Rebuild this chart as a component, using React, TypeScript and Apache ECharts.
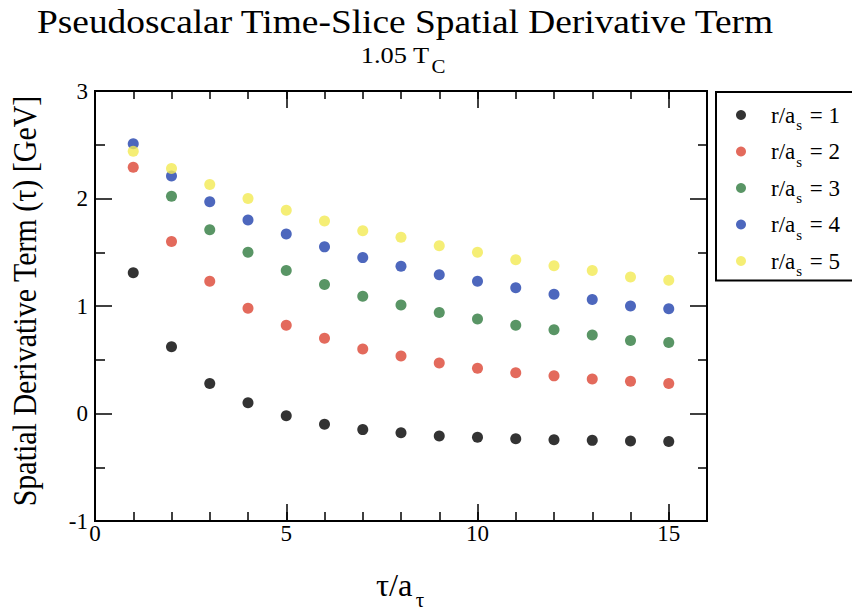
import React, { useEffect, useRef } from "react";
import * as echarts from "echarts";

const FONT = "'Liberation Serif', 'Times New Roman', serif";

const tau = [1, 2, 3, 4, 5, 6, 7, 8, 9, 10, 11, 12, 13, 14, 15];
const seriesNames = ["r/a_s = 1", "r/a_s = 2", "r/a_s = 3", "r/a_s = 4", "r/a_s = 5"];
const rLabels = ["1", "2", "3", "4", "5"];
const r1 = [1.31, 0.62, 0.28, 0.1, -0.02, -0.1, -0.15, -0.18, -0.21, -0.22, -0.235, -0.245, -0.25, -0.255, -0.26];
const r2 = [2.29, 1.6, 1.23, 0.98, 0.82, 0.7, 0.6, 0.535, 0.47, 0.42, 0.38, 0.35, 0.32, 0.3, 0.28];
const r3 = [null, 2.02, 1.71, 1.5, 1.33, 1.2, 1.09, 1.01, 0.94, 0.88, 0.82, 0.78, 0.73, 0.68, 0.66];
const r4 = [2.51, 2.21, 1.97, 1.8, 1.67, 1.55, 1.45, 1.37, 1.29, 1.23, 1.17, 1.11, 1.06, 1.0, 0.975];
const r5 = [2.44, 2.28, 2.13, 2.0, 1.89, 1.79, 1.7, 1.64, 1.56, 1.5, 1.43, 1.375, 1.33, 1.27, 1.24];
const colors = ["#000000", "#dc4533", "#2f7a3e", "#2141ac", "#f3ea52"];
const allSeries = [r1, r2, r3, r4, r5];

const yTicks = { min: -1, max: 3, interval: 1 };
const xRange = { min: 0, max: 16 };

export default function App() {
  const ref = useRef<HTMLDivElement>(null);
  useEffect(() => {
    const chart = echarts.init(ref.current!, null, { renderer: "svg" });
    const tickLine = { color: "#000", width: 1.5 };
    const xBase = {
      type: "value" as const,
      min: xRange.min,
      max: xRange.max,
      splitLine: { show: false },
      axisLine: { show: false, onZero: false },
    };
    const option: any = {
      animation: false,
      backgroundColor: "#ffffff",
      textStyle: { fontFamily: FONT },
      grid: {
        left: 95,
        top: 91,
        width: 612,
        height: 430,
        show: true,
        borderColor: "#000",
        borderWidth: 2,
      },
      graphic: [
        {
          type: "text",
          x: 405,
          y: 22,
          scaleX: 1.1,
          style: {
            text: "Pseudoscalar Time-Slice Spatial Derivative Term",
            font: `34px ${FONT}`,
            fill: "#000",
            textAlign: "center",
            textVerticalAlign: "middle",
          },
        },
        {
          type: "text",
          x: 403,
          y: 55,
          scaleX: 1.1,
          style: {
            text: "1.05 T{c|C}",
            font: `24px ${FONT}`,
            fill: "#000",
            textAlign: "center",
            textVerticalAlign: "middle",
            rich: {
              c: { font: `19px ${FONT}`, fill: "#000", padding: [22, 0, 0, 2] },
            },
          },
        },
        {
          type: "text",
          x: 25,
          y: 301,
          rotation: Math.PI / 2,
          scaleY: 1.1,
          style: {
            text: "Spatial Derivative Term (τ) [GeV]",
            font: `30px ${FONT}`,
            fill: "#000",
            textAlign: "center",
            textVerticalAlign: "middle",
          },
        },
        {
          type: "text",
          x: 400,
          y: 586,
          scaleX: 1.05,
          style: {
            text: "τ/a{t|τ}",
            font: `31px ${FONT}`,
            fill: "#000",
            textAlign: "center",
            textVerticalAlign: "middle",
            rich: {
              t: { font: `20px ${FONT}`, fill: "#000", padding: [28, 0, 0, 3] },
            },
          },
        },
      ],
      legend: {
        orient: "vertical",
        left: 716,
        top: 92,
        padding: [9, 40, 2, 20],
        itemGap: 5,
        itemWidth: 10,
        itemHeight: 10,
        icon: "circle",
        borderColor: "#000",
        borderWidth: 2,
        data: seriesNames,
        formatter: (name: string) => {
          const i = seriesNames.indexOf(name);
          return `r/a{s|s} = ${rLabels[i]}`;
        },
        textStyle: {
          fontFamily: FONT,
          fontSize: 23,
          lineHeight: 28,
          color: "#000",
          padding: [0, 0, 0, 20],
          rich: {
            s: { fontFamily: FONT, fontSize: 15, color: "#000", padding: [20, 2, 0, 1] },
          },
        },
      },
      xAxis: [
        {
          ...xBase,
          position: "bottom",
          interval: 5,
          axisTick: { show: true, inside: true, length: 17, lineStyle: tickLine },
          axisLabel: {
            show: true,
            fontFamily: FONT,
            fontSize: 23,
            color: "#000",
            margin: 1,
            showMaxLabel: false,
          },
        },
        {
          ...xBase,
          position: "bottom",
          interval: 1,
          axisTick: { show: true, inside: true, length: 9, lineStyle: tickLine },
          axisLabel: { show: false },
        },
        {
          ...xBase,
          position: "top",
          interval: 5,
          axisTick: { show: true, inside: true, length: 17, lineStyle: tickLine },
          axisLabel: { show: false },
        },
        {
          ...xBase,
          position: "top",
          interval: 1,
          axisTick: { show: true, inside: true, length: 8, lineStyle: tickLine },
          axisLabel: { show: false },
        },
      ],
      yAxis: [
        {
          type: "value",
          position: "left",
          min: yTicks.min,
          max: yTicks.max,
          interval: yTicks.interval,
          splitLine: { show: false },
          axisLine: { show: false, onZero: false },
          axisTick: { show: true, inside: true, length: 17, lineStyle: tickLine },
          minorTick: { show: true, splitNumber: 2, length: 10, lineStyle: tickLine },
          axisLabel: { fontFamily: FONT, fontSize: 23, color: "#000", margin: 7 },
        },
        {
          type: "value",
          position: "right",
          min: yTicks.min,
          max: yTicks.max,
          interval: yTicks.interval,
          splitLine: { show: false },
          axisLine: { show: false, onZero: false },
          axisTick: { show: true, inside: true, length: 17, lineStyle: tickLine },
          minorTick: { show: true, splitNumber: 2, length: 9, lineStyle: tickLine },
          axisLabel: { show: false },
        },
      ],
      series: allSeries.map((vals, i) => ({
        name: seriesNames[i],
        type: "scatter",
        xAxisIndex: 0,
        yAxisIndex: 0,
        symbol: "circle",
        symbolSize: 11,
        itemStyle: { color: colors[i] },
        data: tau.map((t, j) => (vals[j] === null ? null : [t, vals[j]])).filter((d) => d !== null),
      })),
    };
    chart.setOption(option);
    return () => chart.dispose();
  }, []);
  return (
    <div
      ref={ref}
      style={{ width: 852, height: 614, position: "absolute", left: 0, top: 0 }}
    />
  );
}
